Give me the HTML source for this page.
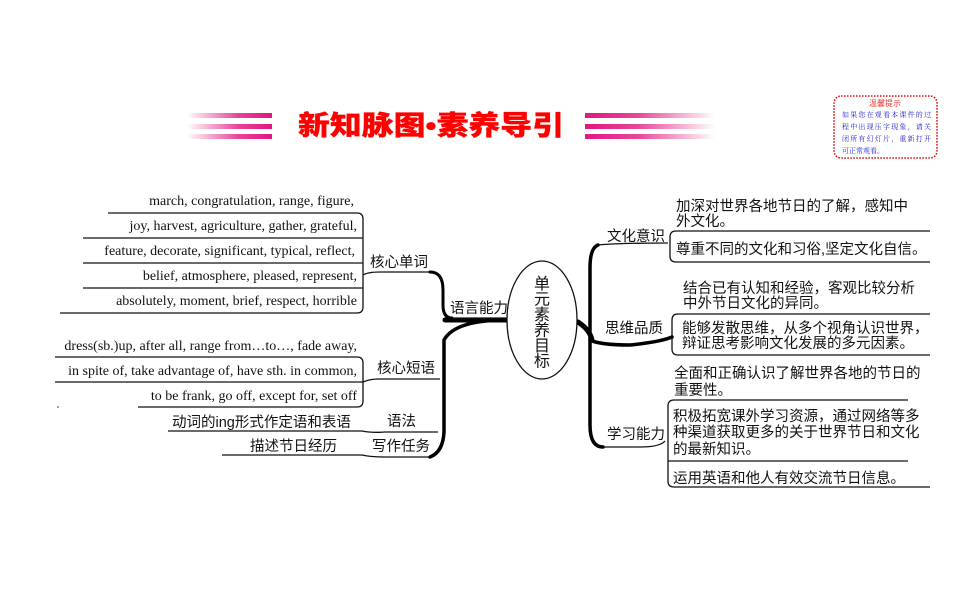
<!DOCTYPE html>
<html><head><meta charset="utf-8"><style>
html,body{margin:0;padding:0;background:#fff;}
svg{display:block;}
text{font-family:"Liberation Serif","Noto Serif CJK SC",serif;fill:#111;}
.c{font-family:"Liberation Sans","Noto Sans CJK SC",sans-serif;}
</style></head><body>
<svg width="960" height="599" viewBox="0 0 960 599" xmlns="http://www.w3.org/2000/svg">
<defs>
<linearGradient id="gl" x1="0" x2="1"><stop offset="0" stop-color="#e0177f" stop-opacity="0"/><stop offset="0.6" stop-color="#e0177f" stop-opacity="0.8"/><stop offset="1" stop-color="#e0177f"/></linearGradient>
<linearGradient id="gr" x1="0" x2="1"><stop offset="0" stop-color="#e0177f"/><stop offset="0.4" stop-color="#e0177f" stop-opacity="0.8"/><stop offset="1" stop-color="#e0177f" stop-opacity="0"/></linearGradient>
</defs>
<rect x="187" y="113" width="85" height="5" fill="url(#gl)"/>
<rect x="187" y="124" width="85" height="5" fill="url(#gl)"/>
<rect x="187" y="134" width="85" height="5" fill="url(#gl)"/>
<rect x="585" y="113" width="130" height="5" fill="url(#gr)"/>
<rect x="585" y="124" width="130" height="5" fill="url(#gr)"/>
<rect x="585" y="134" width="130" height="5" fill="url(#gr)"/>
<text x="431" y="135" text-anchor="middle" class="c" font-size="27" font-weight="900" style="fill:#f00;stroke:#f00;stroke-width:0.3" textLength="266" lengthAdjust="spacingAndGlyphs">新知脉图•素养导引</text>
<rect x="834" y="96" width="103" height="62" rx="7" fill="#fff" stroke="#d00" stroke-width="1.5" stroke-dasharray="1.5,1.5"/>
<text x="885" y="106" text-anchor="middle" class="c" font-size="8" style="fill:#e33">温馨提示</text>
<g font-size="7">
<text x="842" y="117" style="fill:#22c" textLength="89">如果您在观看本课件的过</text>
<text x="842" y="129" style="fill:#22c" textLength="89">程中出现压字现象，请关</text>
<text x="842" y="141" style="fill:#22c" textLength="89">闭所有幻灯片，重新打开</text>
<text x="842" y="153" style="fill:#22c">可正常观看。</text>
</g>
<g fill="none" stroke="#111" stroke-width="1.3">
<path d="M108 213 H357 Q363 213 363 219 V307 Q363 313 357 313 H60"/>
<path d="M83 238 H363 M83 263 H363 M83 288 H363"/>
<path d="M55 357 H357 Q363 357 363 363 V401 Q363 407 357 407 H138"/>
<path d="M55 382 H363"/>
<path d="M168 431 H362 Q372 433 385 432 H438"/>
<path d="M222 455 H362 Q370 457 385 457 H430"/>
<path d="M363 275 Q368 272 380 272 H430"/>
<path d="M363 382 Q370 379 378 379 H440"/>
<path d="M930 231 H676 Q670 231 670 237 V256 Q670 262 676 262 H930"/>
<path d="M930 314 H678 Q672 314 672 320 V349 Q672 355 678 355 H930"/>
<path d="M908 400 H674 Q668 400 668 406 V481 Q668 487 674 487 H930"/>
<path d="M668 461 H908"/>
<path d="M598 245 Q620 243 668 243"/>
<path d="M665 441 Q660 447 640 447 H600"/>
</g>
<g fill="none" stroke="#000" stroke-linecap="round">
<path d="M430 272 Q443 272 443 290 V305 Q443 318 452 318" stroke-width="3"/>
<path d="M445 320 H507" stroke-width="5"/>
<path d="M507 320 Q455 320 444 340 V432 Q443 452 430 457" stroke-width="3.5"/>
<path d="M578 322 Q590 330 592 340" stroke-width="5"/>
<path d="M598 245 Q590 248 590 268 V425 Q590 447 603 447" stroke-width="3.5"/>
<path d="M590 340 Q600 345 630 345 Q660 342 672 337" stroke-width="3.5"/>
</g>
<path d="M452 318 H505" stroke="#111" stroke-width="1.3"/>
<ellipse cx="542" cy="320" rx="35" ry="59" fill="#fff" stroke="#111" stroke-width="1.3"/>
<g font-size="16" text-anchor="middle">
<text x="542" y="289" class="c">单</text><text x="542" y="304.5" class="c">元</text><text x="542" y="320" class="c">素</text><text x="542" y="335.5" class="c">养</text><text x="542" y="351" class="c">目</text><text x="542" y="366.5" class="c">标</text>
</g>
<g font-size="14" text-anchor="end">
<text x="354" y="205">march, congratulation, range, figure,</text>
<text x="357" y="230">joy, harvest, agriculture, gather, grateful,</text>
<text x="355" y="255">feature, decorate, significant, typical, reflect,</text>
<text x="357" y="280">belief, atmosphere, pleased, represent,</text>
<text x="357" y="305">absolutely, moment, brief, respect, horrible</text>
<text x="357" y="350">dress(sb.)up, after all, range from…to…, fade away,</text>
<text x="357" y="375">in spite of, take advantage of, have sth. in common,</text>
<text x="357" y="400">to be frank, go off, except for, set off</text>
</g>
<g font-size="14.5">
<text x="370" y="267" class="c">核心单词</text>
<text x="450" y="313" class="c">语言能力</text>
<text x="377" y="373" class="c">核心短语</text>
<text x="387" y="426" class="c">语法</text>
<text x="372" y="451" class="c">写作任务</text>
<text x="172" y="427" class="c">动词的ing形式作定语和表语</text>
<text x="250" y="451" class="c">描述节日经历</text>
<text x="607" y="241" class="c">文化意识</text>
<text x="605" y="333" class="c">思维品质</text>
<text x="607" y="439" class="c">学习能力</text>
<text x="676" y="211" class="c">加深对世界各地节日的了解，感知中</text>
<text x="676" y="226" class="c">外文化。</text>
<text x="676" y="254" class="c">尊重不同的文化和习俗,坚定文化自信。</text>
<text x="683" y="293" class="c">结合已有认知和经验，客观比较分析</text>
<text x="683" y="308" class="c">中外节日文化的异同。</text>
<text x="682" y="333" class="c">能够发散思维，从多个视角认识世界，</text>
<text x="682" y="348" class="c">辩证思考影响文化发展的多元因素。</text>
<text x="674" y="378" class="c">全面和正确认识了解世界各地的节日的</text>
<text x="674" y="395" class="c">重要性。</text>
<text x="673" y="421" class="c">积极拓宽课外学习资源，通过网络等多</text>
<text x="673" y="437" class="c">种渠道获取更多的关于世界节日和文化</text>
<text x="673" y="454" class="c">的最新知识。</text>
<text x="673" y="483" class="c">运用英语和他人有效交流节日信息。</text>
</g>
<circle cx="58" cy="407" r="0.8" fill="#333"/>
</svg>
</body></html>
